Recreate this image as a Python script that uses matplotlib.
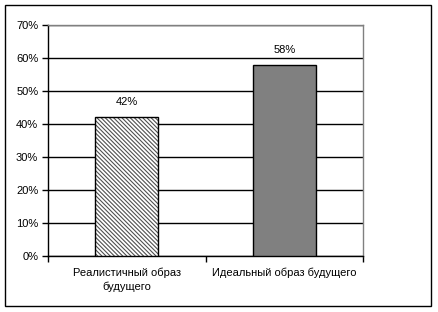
import matplotlib.pyplot as plt
from matplotlib.patches import Rectangle

plt.rcParams['font.family'] = ['Liberation Sans', 'DejaVu Sans']
plt.rcParams['hatch.linewidth'] = 0.8

categories = ['Реалистичный образ\nбудущего', 'Идеальный образ будущего']
values = [42, 58]
labels = ['42%', '58%']
yticks = [0, 10, 20, 30, 40, 50, 60, 70]

fig = plt.figure(figsize=(4.38, 3.12), dpi=100)
ax = fig.add_axes([0.1096, 0.1795, 0.7192, 0.7404])

# outer chart frame
fig.patches.append(Rectangle((0.012, 0.018), 0.972, 0.965, transform=fig.transFigure,
                             fill=False, edgecolor='black', linewidth=1.0))

x = [0, 1]
# hatched fill first, then black outline on top
ax.bar(x[0], values[0], width=0.4, color='white', edgecolor='#505050',
       hatch='\\' * 8, linewidth=0, zorder=3)
ax.bar(x[0], values[0], width=0.4, fill=False, edgecolor='black',
       linewidth=1.0, zorder=4)
ax.bar(x[1], values[1], width=0.4, color='#808080', edgecolor='black',
       linewidth=1.0, zorder=3)
for i in range(2):
    ax.text(x[i], values[i] + 3, labels[i], ha='center', va='bottom', fontsize=8)

ax.set_xlim(-0.5, 1.5)
ax.set_ylim(0, 70)
ax.set_yticks(yticks)
ax.set_yticklabels([f'{v}%' for v in yticks], fontsize=8)
ax.yaxis.grid(True, color='black', linewidth=1.0, zorder=0)
ax.set_axisbelow(True)

ax.set_xticks(x)
ax.set_xticklabels(categories, fontsize=8, linespacing=1.5)
ax.set_xticks([-0.5, 0.5, 1.5], minor=True)
ax.tick_params(axis='x', which='major', length=0, pad=8)
ax.tick_params(axis='x', which='minor', length=4, direction='out', width=1)
ax.tick_params(axis='y', length=4, direction='out', width=1, pad=3)

ax.spines['top'].set_color('#808080')
ax.spines['right'].set_color('#808080')
for s in ax.spines.values():
    s.set_linewidth(1.0)

fig.savefig('out.png', dpi=100)
